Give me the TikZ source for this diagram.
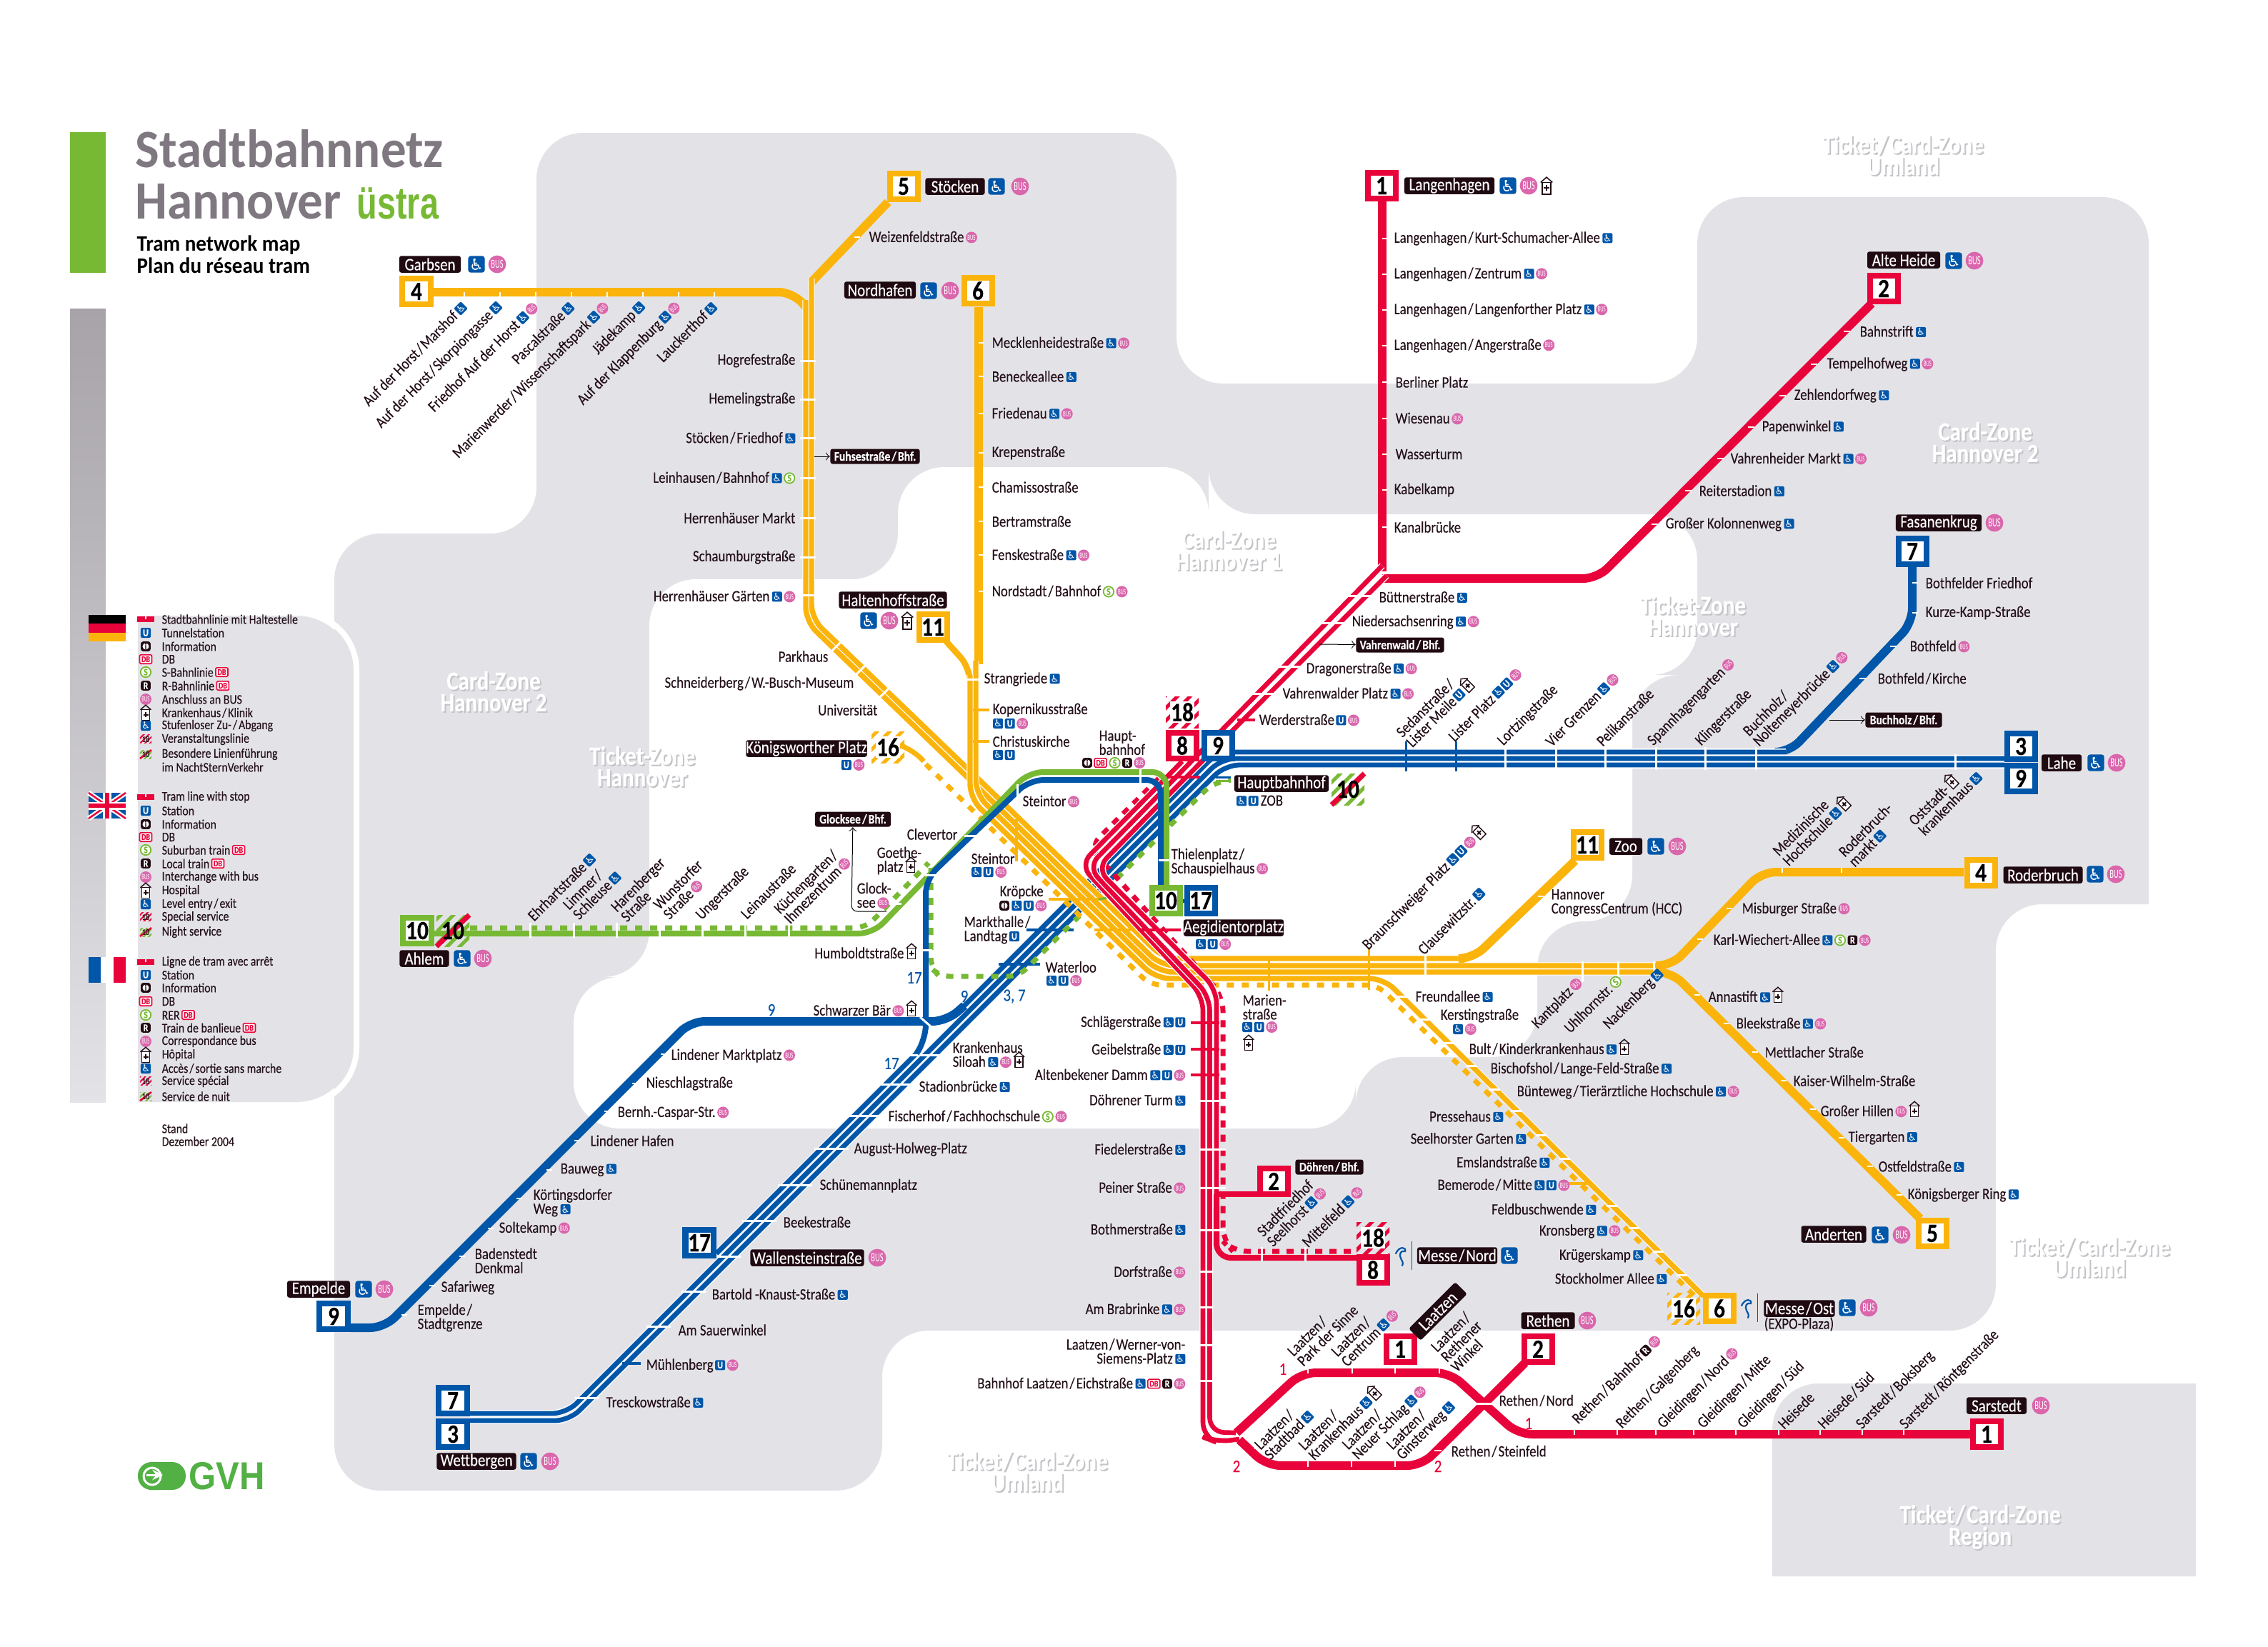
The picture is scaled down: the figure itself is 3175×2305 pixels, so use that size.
\documentclass[tikz,border=0pt]{standalone}
\usepackage{fontspec}
\usetikzlibrary{patterns.meta}
\setmainfont{Carlito}
\newfontfamily\mapfam{Carlito}[FakeStretch=0.85,FakeBold=0.12]
\newfontfamily\titlefam{Carlito}[FakeStretch=0.94]
\newfontfamily\iconfam{Carlito}[FakeStretch=0.6]
\newfontfamily\wheelfam{DejaVu Sans}
\newfontfamily\logofam{Liberation Sans}[FakeStretch=0.9]
\newfontfamily\ustrafam{Liberation Sans}[FakeStretch=0.74]

\definecolor{zonegray}{HTML}{E3E3E7}
\definecolor{zoneshade}{HTML}{C4C4C8}
\definecolor{bartop}{HTML}{A7A3A8}
\definecolor{tramred}{HTML}{E8043A}
\definecolor{tramyellow}{HTML}{FBB40C}
\definecolor{tramblue}{HTML}{0056A8}
\definecolor{tramgreen}{HTML}{78B934}
\definecolor{plateblk}{HTML}{200A12}
\definecolor{stoptext}{HTML}{24101A}
\definecolor{buspink}{HTML}{DA66AC}
\definecolor{titlegray}{HTML}{7F7880}
\definecolor{gvhgreen}{HTML}{52B044}

\def\stopfont{\fontsize{6.3}{5.6}\mapfam\lineskiplimit=-10pt}
\def\platefont{\fontsize{7}{8}\mapfam}
\def\minifont{\fontsize{5.2}{6}\mapfam\bfseries}
\def\numfont{\fontsize{10.5}{11}\mapfam\bfseries}
\def\legfont{\fontsize{5.3}{6}\mapfam}
\def\zonefont{\fontsize{10.4}{8.6}\mapfam\bfseries}
\def\slsh{\kern.2mm/\kern.2mm}

\tikzset{
	lbl/.style={anchor=west,inner sep=0pt,align=left,font=\stopfont,text=stoptext},
	lblr/.style={anchor=east,inner sep=0pt,align=right,font=\stopfont,text=stoptext},
	rlbl/.style={lbl,rotate=45},
	rlblr/.style={lblr,rotate=45},
	plate/.style={fill=plateblk,text=white,rounded corners=.3mm,inner sep=0pt,minimum width=#1,minimum height=2.35mm,font=\platefont},
	platem/.style={fill=plateblk,text=white,rounded corners=.3mm,inner sep=0pt,minimum width=#1,minimum height=2.1mm,font=\minifont},
	numbox/.style={draw=#1,line width=.8mm,fill=white,minimum width=3.9mm,minimum height=3.6mm,inner sep=0pt,text=black,font=\numfont},
	icn/.style={inner sep=0pt},
	zonetxt/.style={inner sep=0pt,align=center,font=\zonefont},
	lnum/.style={inner sep=0pt,font=\fontsize{7}{8}\mapfam,text=#1},
	leglbl/.style={anchor=west,inner sep=0pt,font=\legfont,text=stoptext},
	linered/.style={tramred,line width=1.2mm,rounded corners=2mm},
	lineyel/.style={tramyellow,line width=1.2mm,rounded corners=2mm},
	lineblu/.style={tramblue,line width=1.2mm,rounded corners=2mm},
	bandr/.style={draw=white,double=tramred,double distance=.66mm,line width=.14mm,rounded corners=2mm},
	bandy/.style={draw=white,double=tramyellow,double distance=.74mm,line width=.1mm,rounded corners=2mm},
	bandb/.style={draw=white,double=tramblue,double distance=.68mm,line width=.14mm,rounded corners=2mm},
	nightr/.style={tramred,line width=.7mm,dash pattern=on 1mm off 1mm,rounded corners=2mm},
	nighty/.style={tramyellow,line width=.7mm,dash pattern=on 1mm off 1.1mm,rounded corners=1.5mm},
	nightg/.style={tramgreen,line width=.7mm,dash pattern=on 1mm off 1.1mm,rounded corners=1.5mm},
	cutw/.style={white,line width=.3mm},
	tickw/.style={white,line width=.28mm},
}

\newsavebox\wcbox \newsavebox\ubox \newsavebox\busbox \newsavebox\hospbox
\newsavebox\sbbox \newsavebox\rbbox \newsavebox\infobox \newsavebox\dbbox
\newsavebox\evbox \newsavebox\nsbox
\def\makeicons{%
	\pgfinterruptpicture%
	\global\setbox\wcbox\hbox{\tikz[baseline=-.65mm]{\fill[tramblue,rounded corners=.2mm] (-.7mm,-.7mm) rectangle (.7mm,.7mm); \node[white,inner sep=0pt,font=\fontsize{3.8}{4}\wheelfam] (wcg) at (0,0) {♿};}}%
	\global\setbox\ubox\hbox{\tikz[baseline=-.65mm]{\fill[tramblue,rounded corners=.2mm] (-.7mm,-.7mm) rectangle (.7mm,.7mm); \node[white,inner sep=0pt,font=\fontsize{4}{4}\mapfam\bfseries] (ug) at (0,0) {U};}}%
	\global\setbox\busbox\hbox{\tikz[baseline=-.65mm]{\fill[buspink] (0,0) circle (.8mm); \node[white,inner sep=0pt,font=\fontsize{3.2}{4}\iconfam] (bg) at (0,0) {BUS};}}%
	\global\setbox\hospbox\hbox{\tikz[baseline=-.9mm]{\draw[plateblk,line width=.14mm,fill=white] (-.55mm,-1mm) rectangle (.55mm,.5mm); \draw[plateblk,line width=.14mm] (-.75mm,.5mm) -- (0,1.15mm) -- (.75mm,.5mm); \fill[plateblk] (-.35mm,-.3mm) rectangle (.35mm,-.1mm); \fill[plateblk] (-.1mm,-.55mm) rectangle (.1mm,.15mm);}}%
	\global\setbox\sbbox\hbox{\tikz[baseline=-.65mm]{\draw[tramgreen,line width=.18mm,fill=white] (0,0) circle (.72mm); \node[tramgreen,inner sep=0pt,font=\fontsize{4}{4}\mapfam\bfseries] (sg) at (0,0) {S};}}%
	\global\setbox\rbbox\hbox{\tikz[baseline=-.65mm]{\fill[plateblk,rounded corners=.3mm] (-.68mm,-.68mm) rectangle (.68mm,.68mm); \node[white,inner sep=0pt,font=\fontsize{4}{4}\mapfam\bfseries] (rg) at (0,0) {R};}}%
	\global\setbox\infobox\hbox{\tikz[baseline=-.65mm]{\fill[plateblk,rounded corners=.3mm] (-.68mm,-.68mm) rectangle (.68mm,.68mm); \fill[white] (0,0) circle (.45mm); \node[plateblk,inner sep=0pt,font=\fontsize{3.6}{4}\mapfam\bfseries] (ig) at (0,0) {i};}}%
	\global\setbox\dbbox\hbox{\tikz[baseline=-.65mm]{\draw[tramred,line width=.16mm,fill=white,rounded corners=.15mm] (-.85mm,-.62mm) rectangle (.85mm,.62mm); \node[tramred,inner sep=0pt,font=\fontsize{3.4}{4}\mapfam\bfseries] (dg) at (0,0) {DB};}}%
	\global\setbox\evbox\hbox{\tikz[baseline=-.65mm]{\fill[pattern={Lines[angle=45,distance=.5mm,line width=.2mm]},pattern color=tramred] (-.8mm,-.6mm) rectangle (.8mm,.6mm); \node[stoptext,inner sep=0pt,font=\fontsize{3.4}{4}\mapfam] (eg) at (0,0) {18};}}%
	\global\setbox\nsbox\hbox{\tikz[baseline=-.65mm]{\fill[pattern={Lines[angle=45,distance=.5mm,line width=.2mm]},pattern color=tramgreen] (-.8mm,-.6mm) rectangle (.8mm,.6mm); \draw[tramred,line width=.25mm] (-.8mm,-.6mm) -- (.8mm,.6mm); \node[stoptext,inner sep=0pt,font=\fontsize{3.4}{4}\mapfam] (ng) at (0,0) {10};}}%
	\endpgfinterruptpicture%
}
\def\icw{\kern.35mm\usebox\wcbox}
\def\icu{\kern.25mm\usebox\ubox}
\def\icb{\kern.25mm\usebox\busbox}
\def\ich{\kern.25mm\usebox\hospbox}
\def\ics{\kern.25mm\usebox\sbbox}
\def\icr{\kern.25mm\usebox\rbbox}
\def\ici{\kern.25mm\usebox\infobox}
\def\icd{\kern.25mm\usebox\dbbox}
\def\bigw{\scalebox{1.65}{\usebox\wcbox}}
\def\bigb{\scalebox{1.55}{\usebox\busbox}}
\def\bigh{\scalebox{1.1}{\usebox\hospbox}}
\def\zonelbl#1(#2,#3)#4{\node[zonetxt,text=zoneshade] (#1s) at (#2+2,#3+2) {#4}; \node[zonetxt,text=white] (#1) at (#2,#3) {#4};}
\def\stripebox#1(#2,#3)#4#5{\fill[pattern={Lines[angle=45,distance=1.25mm,line width=.5mm]},pattern color=#4] (#2-23,#3-22) rectangle (#2+23,#3+22); #5}
\def\legrow#1(#2)#3#4{\node[icn] (#1i) at (204,#2) {#3}; \node[leglbl] (#1t) at (226,#2) {#4};}
\def\legbar(#1){\fill[tramred] (192,#1-4) rectangle (216,#1+4); \fill[white] (203,#1-4) rectangle (205,#1);}
\def\expowave(#1,#2){\draw[tramblue,line width=.22mm,line cap=round] (#1-7,#2-3) .. controls (#1-2,#2-14) and (#1+8,#2-12) .. (#1+6,#2-6) .. controls (#1,#2-8) and (#1-3,#2-2) .. (#1,#2+4) .. controls (#1+2,#2+8) and (#1+4,#2+10) .. (#1+2,#2+14); \draw[tramblue,line width=.1mm] (#1+15,#2-20) -- (#1+15,#2+20);}

\begin{document}
\begin{tikzpicture}[x=0.01cm,y=-0.01cm]
	\makeicons
	\useasboundingbox (0,0) rectangle (3175,2305);
	%%%%% ZONES %%%%%
	\fill[zonegray,rounded corners=6.5mm] (751,186) -- (1647,186) -- (1647,537) -- (2376,537) -- (2376,276) -- (3008,276) [sharp corners] -- (3008,1266) [rounded corners=6.5mm] -- (2794,1266) -- (2794,1863) -- (1235,1863) -- (1235,2087) -- (468,2087) -- (468,747) -- (751,747) -- cycle;
	\fill[white,rounded corners=6.5mm] (1257,654) -- (1692,654) -- (1692,720) -- (2376,720) -- (2376,945) -- (2285,945) -- (2285,1290) -- (2152,1290) -- (2152,1480) -- (1898,1480) -- (1898,1580) -- (803,1580) -- (803,1368) -- (909,1368) -- (909,811) -- (1257,811) -- cycle;
	\fill[zonegray] (2481,2207) [rounded corners=6.5mm] -- (2481,1937) [sharp corners] -- (3074,1937) -- (3074,2207) -- cycle;

	\zonelbl{zta}(2664,217){Ticket\slsh Card-Zone\\Umland}
	\zonelbl{zcb}(2779,619){Card-Zone\\Hannover 2}
	\zonelbl{ztc}(2370,862){Ticket-Zone\\Hannover}
	\zonelbl{zcd}(1720,770){Card-Zone\\Hannover 1}
	\zonelbl{zce}(691,968){Card-Zone\\Hannover 2}
	\zonelbl{ztf}(899,1073){Ticket-Zone\\Hannover}
	\zonelbl{ztg}(1438,2060){Ticket\slsh Card-Zone\\Umland}
	\zonelbl{zth}(2925,1760){Ticket\slsh Card-Zone\\Umland}
	\zonelbl{zti}(2772,2138){Ticket\slsh Card-Zone\\Region}

	%%%%% TITLE %%%%%
	\fill[tramgreen] (98,185) rectangle (148,382);
	\shade[top color=bartop,bottom color=zonegray] (98,432) rectangle (148,1543);
	\node[anchor=base west,inner sep=0pt,text=titlegray,font=\fontsize{21.5}{22}\titlefam\bfseries] (ttla) at (189,234) {Stadtbahnnetz};
	\node[anchor=base west,inner sep=0pt,text=titlegray,font=\fontsize{21.5}{22}\titlefam\bfseries] (ttlb) at (189,306) {Hannover};
	\node[anchor=base west,inner sep=0pt,text=tramgreen,font=\fontsize{18}{20}\ustrafam\bfseries] (ttlc) at (499,306) {üstra};
	\node[anchor=base west,inner sep=0pt,text=black,font=\fontsize{8.8}{10}\titlefam\bfseries] (ttld) at (191,351) {Tram network map};
	\node[anchor=base west,inner sep=0pt,text=black,font=\fontsize{8.8}{10}\titlefam\bfseries] (ttle) at (191,382) {Plan du réseau tram};

	%%%%% LEGEND %%%%%
	\fill[zonegray] (193,862) [rounded corners=8mm] -- (495,862) -- (495,1543) [sharp corners] -- (193,1543) -- cycle;
	\draw[white,line width=.8mm,rounded corners=8mm] (440,858) -- (499,858) -- (499,1547) -- (440,1547);

	\fill[black] (124,861) rectangle (176,873);
	\fill[tramred] (124,873) rectangle (176,886);
	\fill[tramyellow] (124,886) rectangle (176,898);
	\fill[tramblue] (124,1110) rectangle (176,1146);
	\draw[white,line width=.7mm] (124,1110) -- (176,1146) (124,1146) -- (176,1110);
	\draw[tramred,line width=.25mm] (124,1110) -- (176,1146) (124,1146) -- (176,1110);
	\draw[white,line width=1.1mm] (150,1110) -- (150,1146) (124,1128) -- (176,1128);
	\draw[tramred,line width=.6mm] (150,1110) -- (150,1146) (124,1128) -- (176,1128);
	\fill[tramblue] (124,1340) rectangle (141,1376);
	\fill[white] (141,1340) rectangle (159,1376);
	\fill[tramred] (159,1340) rectangle (176,1376);

	\legbar(867)
	\node[leglbl] (lda) at (226,867) {Stadtbahnlinie mit Haltestelle};
	\legrow{ldb}(886){\usebox\ubox}{Tunnelstation}
	\legrow{ldc}(905){\usebox\infobox}{Information}
	\legrow{ldd}(923){\usebox\dbbox}{DB}
	\legrow{lde}(941){\usebox\sbbox}{S-Bahnlinie\icd}
	\legrow{ldf}(960){\usebox\rbbox}{R-Bahnlinie\icd}
	\legrow{ldg}(979){\usebox\busbox}{Anschluss an BUS}
	\legrow{ldh}(998){\usebox\hospbox}{Krankenhaus\slsh Klinik}
	\legrow{ldi}(1016){\usebox\wcbox}{Stufenloser Zu-\slsh Abgang}
	\legrow{ldj}(1035){\usebox\evbox}{Veranstaltungslinie}
	\legrow{ldk}(1056){\usebox\nsbox}{Besondere Linienführung}
	\node[leglbl] (ldl) at (226,1074) {im NachtSternVerkehr};

	\legbar(1116)
	\node[leglbl] (lea) at (226,1116) {Tram line with stop};
	\legrow{leb}(1135){\usebox\ubox}{Station}
	\legrow{lec}(1154){\usebox\infobox}{Information}
	\legrow{led}(1172){\usebox\dbbox}{DB}
	\legrow{lee}(1190){\usebox\sbbox}{Suburban train\icd}
	\legrow{lef}(1209){\usebox\rbbox}{Local train\icd}
	\legrow{leg}(1228){\usebox\busbox}{Interchange with bus}
	\legrow{leh}(1247){\usebox\hospbox}{Hospital}
	\legrow{lei}(1266){\usebox\wcbox}{Level entry\slsh exit}
	\legrow{lej}(1284){\usebox\evbox}{Special service}
	\legrow{lek}(1305){\usebox\nsbox}{Night service}

	\legbar(1347)
	\node[leglbl] (lfa) at (226,1347) {Ligne de tram avec arrêt};
	\legrow{lfb}(1365){\usebox\ubox}{Station}
	\legrow{lfc}(1383){\usebox\infobox}{Information}
	\legrow{lfd}(1402){\usebox\dbbox}{DB}
	\legrow{lfe}(1421){\usebox\sbbox}{RER\icd}
	\legrow{lff}(1439){\usebox\rbbox}{Train de banlieue\icd}
	\legrow{lfg}(1458){\usebox\busbox}{Correspondance bus}
	\legrow{lfh}(1477){\usebox\hospbox}{Hôpital}
	\legrow{lfi}(1496){\usebox\wcbox}{Accès\slsh sortie sans marche}
	\legrow{lfj}(1514){\usebox\evbox}{Service spécial}
	\legrow{lfk}(1535){\usebox\nsbox}{Service de nuit}

	\node[leglbl] (stnda) at (226,1580) {Stand};
	\node[leglbl] (stndb) at (226,1598) {Dezember 2004};

	\fill[gvhgreen,rounded corners=1.9mm] (193,2047) rectangle (260,2086);
	\draw[white,line width=.3mm] (213,2067) circle (1.2mm);
	\draw[white,line width=.3mm,-stealth] (205,2065) -- (228,2065);
	\node[anchor=west,inner sep=0pt,text=gvhgreen,font=\fontsize{15.5}{16}\logofam\bfseries] (gvh) at (264,2067) {GVH};

	%%%%% BLUE DIAGONAL %%%%%
	\draw[lineblu] (2677,793) -- (2677,872) -- (2505,1053) -- (2490,1053);
	\draw[bandb] (2500,1053) -- (1705,1053) -- (1345,1413);
	\draw[bandb] (2806,1062) -- (1710,1062) -- (793,1979) -- (658,1979);
	\draw[bandb] (2806,1071) -- (1715,1071) -- (797,1989) -- (658,1989);
	\draw[bandb] (1003,1755) -- (1283,1475);
	\draw[lineblu] (491,1859) -- (538,1859) -- (967,1430) -- (1325,1430) -- (1350,1408);

	\draw[cutw] (1271,1477) -- (1319,1477);
	\draw[cutw] (1230,1518) -- (1278,1518);
	\draw[cutw] (1186,1562) -- (1234,1562);
	\draw[cutw] (1140,1608) -- (1188,1608);
	\draw[cutw] (1089,1659) -- (1137,1659);
	\draw[cutw] (1039,1709) -- (1087,1709);
	\draw[cutw] (1003,1759) -- (1037,1759);
	\draw[cutw] (954,1808) -- (988,1808);
	\draw[cutw] (905,1857) -- (939,1857);
	\draw[cutw] (805,1957) -- (839,1957);
	\draw[tramblue,line width=.35mm] (871,1909) -- (897,1909);
	\draw[tramblue,line width=.35mm] (1398,1350) -- (1456,1350);
	\draw[tramblue,line width=.35mm] (1437,1302) -- (1503,1302);

	\draw[cutw] (2107,1046) -- (2107,1078);
	\draw[cutw] (2178,1046) -- (2178,1078);
	\draw[cutw] (2247,1046) -- (2247,1078);
	\draw[cutw] (2318,1046) -- (2318,1078);
	\draw[cutw] (2387,1046) -- (2387,1078);
	\draw[cutw] (2458,1046) -- (2458,1078);
	\draw[cutw] (2737,1056) -- (2737,1078);
	\draw[tramblue,line width=.3mm] (1968,1038) -- (1968,1080);
	\draw[tramblue,line width=.3mm] (2038,1038) -- (2038,1080);

	\draw[tickw] (925,1476) -- (933,1476);
	\draw[tickw] (885,1517) -- (893,1517);
	\draw[tickw] (846,1556) -- (854,1556);
	\draw[tickw] (804,1597) -- (812,1597);
	\draw[tickw] (765,1638) -- (773,1638);
	\draw[tickw] (723,1678) -- (731,1678);
	\draw[tickw] (683,1720) -- (691,1720);
	\draw[tickw] (643,1759) -- (651,1759);
	\draw[tickw] (601,1800) -- (609,1800);
	\draw[tickw] (562,1841) -- (570,1841);
	\draw[tickw] (2677,816) -- (2685,816);
	\draw[tickw] (2677,858) -- (2685,858);
	\draw[tickw] (2646,905) -- (2655,905);
	\draw[tickw] (2603,950) -- (2612,950);

	%%%%% GREEN NIGHT %%%%%
	\draw[nightg] (658,1299) -- (1212,1299) -- (1300,1208);
	\draw[nightg] (1303,1215) -- (1303,1355) -- (1315,1367) -- (1426,1367) -- (1697,1097) -- (1723,1092);

	%%%%% YELLOW %%%%%
	\draw[lineyel] (607,409) -- (1110,409) -- (1128,430);
	\draw[lineyel] (1243,283) -- (1136,395);
	\draw[lineyel] (1370,430) -- (1370,930);
	\draw[tramyellow,line width=.85mm,rounded corners=2mm] (1320,893) -- (1358,935) -- (1358,955);
	\draw[bandy] (1136,390) -- (1136,866) -- (1398,1118) -- (1629,1342) -- (2055,1342);
	\draw[bandy] (1128,420) -- (1128,870) -- (1385,1118) -- (1625,1352) -- (2322,1352);
	\draw[bandy] (1366,925) -- (1366,1112) -- (1622,1361) -- (2322,1361);
	\draw[bandy] (1358,945) -- (1358,1118) -- (1618,1370) -- (1937,1370) -- (2385,1815);
	\draw[lineyel] (2050,1342) -- (2062,1342) -- (2205,1205);
	\draw[lineyel] (2318,1352) -- (2340,1352) -- (2466,1221) -- (2749,1221);
	\draw[lineyel] (2318,1361) -- (2340,1361) -- (2688,1706);
	\draw[tramyellow,line width=.7mm,rounded corners=2mm] (1267,1046) -- (1280,1050) -- (1293,1066);
	\draw[nighty] (1296,1070) -- (1610,1379) -- (1928,1379) -- (2378,1820);

	\draw[cutw] (1120,505) -- (1142,505);
	\draw[cutw] (1120,559) -- (1142,559);
	\draw[cutw] (1120,613) -- (1142,613);
	\draw[cutw] (1120,669) -- (1142,669);
	\draw[cutw] (1120,725) -- (1142,725);
	\draw[cutw] (1120,780) -- (1142,780);
	\draw[cutw] (1120,833) -- (1142,833);
	\draw[cutw] (1162,914) -- (1180,896);
	\draw[cutw] (1196,947) -- (1214,929);
	\draw[cutw] (1229,979) -- (1247,961);
	\draw[cutw] (1350,951) -- (1376,951);
	\draw[cutw] (1995,1336) -- (1995,1375);
	\draw[cutw] (2215,1346) -- (2215,1375);
	\draw[cutw] (2265,1346) -- (2265,1375);
	\draw[cutw] (2315,1346) -- (2315,1375);
	\draw[tramyellow,line width=.3mm] (1916,1328) -- (1916,1386);
	\draw[tramyellow,line width=.3mm] (1776,1345) -- (1776,1387);
	\draw[tramyellow,line width=.35mm] (1362,994) -- (1385,994);
	\draw[tramyellow,line width=.35mm] (1362,1038) -- (1385,1038);
	\draw[tramyellow,line width=.35mm] (1423,1147) -- (1423,1206);
	\draw[tramyellow,line width=.35mm] (1468,1259) -- (1540,1259);
	\draw[tramgreen,line width=.35mm] (1538,1259) -- (1551,1257);
	\draw[tramyellow,line width=.35mm] (1532,1302) -- (1593,1302);
	\draw[tramyellow,line width=.35mm] (2195,1657) -- (2225,1657);

	\draw[cutw] (1954,1395) -- (1969,1395);
	\draw[cutw] (1986,1427) -- (2001,1427);
	\draw[cutw] (2020,1460) -- (2035,1460);
	\draw[cutw] (2052,1492) -- (2067,1492);
	\draw[cutw] (2085,1525) -- (2100,1525);
	\draw[cutw] (2115,1555) -- (2130,1555);
	\draw[cutw] (2150,1589) -- (2165,1589);
	\draw[cutw] (2183,1622) -- (2198,1622);
	\draw[cutw] (2249,1688) -- (2264,1688);
	\draw[cutw] (2280,1719) -- (2295,1719);
	\draw[cutw] (2314,1752) -- (2329,1752);
	\draw[cutw] (2347,1785) -- (2362,1785);

	\draw[tickw] (650,409) -- (650,416);
	\draw[tickw] (700,409) -- (700,416);
	\draw[tickw] (750,409) -- (750,416);
	\draw[tickw] (800,409) -- (800,416);
	\draw[tickw] (850,409) -- (850,416);
	\draw[tickw] (900,409) -- (900,416);
	\draw[tickw] (950,409) -- (950,416);
	\draw[tickw] (1000,409) -- (1000,416);
	\draw[tickw] (1196,332) -- (1204,332);
	\draw[tickw] (1370,480) -- (1377,480);
	\draw[tickw] (1370,527) -- (1377,527);
	\draw[tickw] (1370,579) -- (1377,579);
	\draw[tickw] (1370,634) -- (1377,634);
	\draw[tickw] (1370,682) -- (1377,682);
	\draw[tickw] (1370,730) -- (1377,730);
	\draw[tickw] (1370,777) -- (1377,777);
	\draw[tickw] (1370,828) -- (1377,828);
	\draw[tickw] (2153,1255) -- (2161,1255);
	\draw[tickw] (2417,1272) -- (2425,1272);
	\draw[tickw] (2376,1315) -- (2384,1315);
	\draw[tickw] (2495,1215) -- (2495,1222);
	\draw[tickw] (2578,1215) -- (2578,1222);
	\draw[tickw] (2372,1393) -- (2380,1393);
	\draw[tickw] (2413,1433) -- (2421,1433);
	\draw[tickw] (2453,1473) -- (2461,1473);
	\draw[tickw] (2493,1513) -- (2501,1513);
	\draw[tickw] (2534,1553) -- (2542,1553);
	\draw[tickw] (2574,1593) -- (2582,1593);
	\draw[tickw] (2614,1633) -- (2622,1633);
	\draw[tickw] (2655,1673) -- (2663,1673);

	%%%%% RED %%%%%
	\draw[linered] (1935,282) -- (1935,800);
	\draw[linered] (2620,425) -- (2236,810) -- (1935,810);
	\draw[nightr] (1622,1090) -- (1525,1186) -- (1712,1395) -- (1712,1738) -- (1726,1752) -- (1899,1752);
	\draw[bandr] (1655,1066) -- (1585,1137) -- (1512,1211) -- (1684,1395) -- (1684,2012) -- (1702,2019) -- (1735,2015);
	\draw[bandr] (1935,792) -- (1598.5,1137) -- (1523,1214) -- (1693.5,1395) -- (1693.5,2005) -- (1730,2006);
	\draw[bandr] (1941,806) -- (1612,1137) -- (1535,1216) -- (1703,1385) -- (1703,1690);
	\draw[tramred,line width=.8mm,rounded corners=2mm] (1703,1672) -- (1703,1761) -- (1899,1761);
	\draw[tramred,line width=.8mm] (1703,1672) -- (1760,1672);
	\draw[tramred,line width=.35mm] (1630,1088) -- (1680,1088);
	\draw[tramred,line width=.35mm] (1732,1008) -- (1757,1008);
	\draw[tramred,line width=.35mm] (1593,1302) -- (1653,1302);
	\draw[tramred,line width=.35mm] (1667,1432) -- (1707,1432);
	\draw[tramred,line width=.35mm] (1667,1469) -- (1707,1469);
	\draw[tramred,line width=.35mm] (1667,1505) -- (1707,1505);

	\draw[linered] (1731,2006) -- (1822,1922) -- (2030,1922) -- (2075,1963) -- (2125,2008) -- (2760,2008);
	\draw[linered] (1735,2016) -- (1773,2052) -- (1990,2052) -- (2075,1968) -- (2135,1908);
	\draw[cutw] (2058,1965) -- (2092,1965);

	\draw[cutw] (1885,834) -- (1925,834);
	\draw[cutw] (1848,872) -- (1888,872);
	\draw[cutw] (1790,933) -- (1825,933);
	\draw[cutw] (1752,971) -- (1788,971);
	\draw[cutw] (1680,1541) -- (1716,1541);
	\draw[cutw] (1680,1609) -- (1716,1609);
	\draw[cutw] (1680,1663) -- (1716,1663);
	\draw[cutw] (1680,1722) -- (1716,1722);
	\draw[cutw] (1680,1780) -- (1698,1780);
	\draw[cutw] (1680,1830) -- (1698,1830);
	\draw[cutw] (1680,1883) -- (1698,1883);
	\draw[cutw] (1680,1933) -- (1698,1933);
	\draw[cutw] (1766,1746) -- (1766,1766);
	\draw[cutw] (1827,1746) -- (1827,1766);

	\draw[tickw] (1935,334) -- (1942,334);
	\draw[tickw] (1935,384) -- (1942,384);
	\draw[tickw] (1935,434) -- (1942,434);
	\draw[tickw] (1935,484) -- (1942,484);
	\draw[tickw] (1935,535) -- (1942,535);
	\draw[tickw] (1935,586) -- (1942,586);
	\draw[tickw] (1935,636) -- (1942,636);
	\draw[tickw] (1935,686) -- (1942,686);
	\draw[tickw] (1935,738) -- (1942,738);
	\draw[tickw] (2581,464) -- (2590,464);
	\draw[tickw] (2535,510) -- (2544,510);
	\draw[tickw] (2491,554) -- (2500,554);
	\draw[tickw] (2447,598) -- (2456,598);
	\draw[tickw] (2404,642) -- (2413,642);
	\draw[tickw] (2359,687) -- (2368,687);
	\draw[tickw] (2312,734) -- (2321,734);
	\draw[tickw] (1831,1915) -- (1831,1923);
	\draw[tickw] (1893,1915) -- (1893,1923);
	\draw[tickw] (1953,1915) -- (1953,1923);
	\draw[tickw] (2015,1915) -- (2015,1923);
	\draw[tickw] (1831,2046) -- (1831,2054);
	\draw[tickw] (1892,2046) -- (1892,2054);
	\draw[tickw] (1953,2046) -- (1953,2054);
	\draw[tickw] (1756,2028) -- (1764,2028);
	\draw[tickw] (2008,2031) -- (2018,2031);
	\draw[tickw] (2204,2002) -- (2204,2009);
	\draw[tickw] (2264,2002) -- (2264,2009);
	\draw[tickw] (2318,2002) -- (2318,2009);
	\draw[tickw] (2371,2002) -- (2371,2009);
	\draw[tickw] (2430,2002) -- (2430,2009);
	\draw[tickw] (2490,2002) -- (2490,2009);
	\draw[tickw] (2548,2002) -- (2548,2009);
	\draw[tickw] (2607,2002) -- (2607,2009);
	\draw[tickw] (2665,2002) -- (2665,2009);

	%%%%% LINES 10 AND 17 ON TOP %%%%%
	\draw[tramgreen,line width=.8mm,rounded corners=2mm] (608,1307) -- (1222,1307) -- (1440,1081) -- (1633,1081) -- (1633,1240);
	\draw[tramblue,line width=.8mm,rounded corners=2mm] (1283,1475) -- (1296,1455) -- (1296,1231) -- (1441,1092) -- (1625,1092) -- (1625,1240);
	\draw[tramgreen,line width=.3mm] (1702,1093) -- (1723,1093);
	\draw[tramblue,line width=.3mm] (1702,1088) -- (1723,1088);
	\draw[tramblue,line width=.5mm] (1655,1261) -- (1658,1261);

	\draw[cutw] (742,1292) -- (742,1313);
	\draw[cutw] (803,1292) -- (803,1313);
	\draw[cutw] (863,1292) -- (863,1313);
	\draw[cutw] (923,1292) -- (923,1313);
	\draw[cutw] (983,1292) -- (983,1313);
	\draw[cutw] (1043,1292) -- (1043,1313);
	\draw[cutw] (1104,1292) -- (1104,1313);
	\draw[cutw] (1350,1170) -- (1378,1170);
	\draw[cutw] (1295,1225) -- (1325,1225);
	\draw[cutw] (1596,1076) -- (1596,1097);
	\draw[cutw] (1424,1098) -- (1424,1122);
	\draw[cutw] (1622,1204) -- (1637,1204);
	\draw[cutw] (1290,1330) -- (1305,1330);
	\draw[cutw] (1288,1424) -- (1304,1438);
	\draw[cutw] (1248,1265) -- (1262,1265);

	%%%%% NUMBER BOXES %%%%%
	\node[numbox=tramred] (none) at (1934,260) {1};
	\node[numbox=tramred] (ntwo) at (2637,404) {2};
	\node[numbox=tramblue] (nseven) at (2677,772) {7};
	\node[numbox=tramblue] (nthree) at (2829,1045) {3};
	\node[numbox=tramblue] (nnine) at (2829,1090) {9};
	\node[numbox=tramyellow] (nfive) at (1265,261) {5};
	\node[numbox=tramyellow] (nfour) at (583,408) {4};
	\node[numbox=tramyellow] (nsix) at (1369,407) {6};
	\node[numbox=tramyellow] (neleven) at (1306,878) {11};
	\node[numbox=tramred] (neight) at (1655,1044) {8};
	\node[numbox=tramblue] (nninec) at (1705,1044) {9};
	\node[numbox=tramgreen] (ntenc) at (1632,1261) {10};
	\node[numbox=tramblue] (nsevtc) at (1681,1261) {17};
	\node[numbox=tramgreen] (ntenw) at (584,1303) {10};
	\node[numbox=tramblue] (nninew) at (467,1843) {9};
	\node[numbox=tramblue] (nsevs) at (634,1961) {7};
	\node[numbox=tramblue] (nthrees) at (634,2008) {3};
	\node[numbox=tramblue] (nsevw) at (979,1740) {17};
	\node[numbox=tramyellow] (nelevene) at (2222,1183) {11};
	\node[numbox=tramyellow] (nfoure) at (2773,1222) {4};
	\node[numbox=tramyellow] (nfivee) at (2705,1727) {5};
	\node[numbox=tramyellow] (nsixe) at (2407,1832) {6};
	\node[numbox=tramred] (ntwod) at (1783,1654) {2};
	\node[numbox=tramred] (neightm) at (1922,1778) {8};
	\node[numbox=tramred] (noner) at (1960,1889) {1};
	\node[numbox=tramred] (ntwor) at (2153,1889) {2};
	\node[numbox=tramred] (nones) at (2781,2008) {1};

	\stripebox{sbeight}(1655,997){tramred}{\fill[white] (1638,982) rectangle (1672,1012); \node[inner sep=0pt,text=black,font=\numfont] (nevent) at (1655,997) {18};}
	\stripebox{sbeightm}(1922,1733){tramred}{\fill[white] (1905,1718) rectangle (1939,1748); \node[inner sep=0pt,text=black,font=\numfont] (neventm) at (1922,1733) {18};}
	\stripebox{sbsix}(1243,1046){tramyellow}{\fill[white] (1226,1031) rectangle (1260,1061); \node[inner sep=0pt,text=black,font=\numfont] (nsixt) at (1243,1046) {16};}
	\stripebox{sbsixe}(2357,1832){tramyellow}{\fill[white] (2340,1817) rectangle (2374,1847); \node[inner sep=0pt,text=black,font=\numfont] (nsixte) at (2357,1832) {16};}
	\stripebox{sbten}(1887,1105){tramgreen}{\draw[tramred,line width=.7mm] (1864,1127) -- (1910,1083); \node[inner sep=0pt,text=black,font=\numfont] (nnighte) at (1887,1105) {10};}
	\stripebox{sbtenw}(634,1303){tramgreen}{\draw[tramred,line width=.7mm] (611,1325) -- (657,1281); \node[inner sep=0pt,text=black,font=\numfont] (nnightw) at (634,1303) {10};}

	%%%%% TERMINUS PLATES %%%%%
	\node[plate=12.6mm] (pllang) at (2029,260) {Langenhagen};
	\node[icn] (ilanga) at (2111,260) {\bigw};
	\node[icn] (ilangb) at (2140,260) {\bigb};
	\node[icn] (ilangc) at (2165,260) {\bigh};
	\node[plate=10.2mm] (plalte) at (2665,364) {Alte Heide};
	\node[icn] (ialtea) at (2735,365) {\bigw};
	\node[icn] (ialteb) at (2764,365) {\bigb};
	\node[plate=12mm] (plfasan) at (2714,732) {Fasanenkrug};
	\node[icn] (ifasan) at (2792,732) {\bigb};
	\node[plate=5.6mm] (pllahe) at (2886,1068) {Lahe};
	\node[icn] (ilahea) at (2934,1068) {\bigw};
	\node[icn] (ilaheb) at (2963,1068) {\bigb};
	\node[plate=8.3mm] (plstoeck) at (1337,261) {Stöcken};
	\node[icn] (istoa) at (1395,261) {\bigw};
	\node[icn] (istob) at (1428,261) {\bigb};
	\node[plate=10mm] (plnord) at (1232,406) {Nordhafen};
	\node[icn] (inora) at (1300,407) {\bigw};
	\node[icn] (inorb) at (1330,407) {\bigb};
	\node[plate=8.6mm] (plgarb) at (602,370) {Garbsen};
	\node[icn] (igara) at (667,370) {\bigw};
	\node[icn] (igarb) at (696,370) {\bigb};
	\node[plate=15.1mm] (plhalt) at (1250,840) {Haltenhoffstraße};
	\node[icn] (ihala) at (1216,869) {\bigw};
	\node[icn] (ihalb) at (1245,869) {\bigb};
	\node[icn] (ihalc) at (1270,869) {\bigh};
	\node[plate=16.4mm] (plkoen) at (1129,1048) {Königsworther Platz};
	\node[lblr] (ikoen) at (1211,1071) {\icu\icb};
	\node[plate=13.2mm] (plhbf) at (1794,1097) {Hauptbahnhof};
	\node[lbl] (zob) at (1727,1121) {\icw\icu\kern.3mm ZOB};
	\node[plate=13.9mm] (plaegi) at (1727,1299) {Aegidientorplatz};
	\node[lbl] (iaegi) at (1670,1322) {\icw\icu\icb};
	\node[plate=15.9mm] (plwall) at (1130,1761) {Wallensteinstraße};
	\node[icn] (iwall) at (1228,1761) {\bigb};
	\node[plate=11.1mm] (plwett) at (667,2046) {Wettbergen};
	\node[icn] (iweta) at (740,2046) {\bigw};
	\node[icn] (iwetb) at (770,2046) {\bigb};
	\node[plate=8.8mm] (plemp) at (446,1805) {Empelde};
	\node[icn] (iempa) at (509,1805) {\bigw};
	\node[icn] (iempb) at (538,1805) {\bigb};
	\node[plate=6.9mm] (plahl) at (594,1342) {Ahlem};
	\node[icn] (iahla) at (647,1342) {\bigw};
	\node[icn] (iahlb) at (676,1342) {\bigb};
	\node[plate=4.6mm] (plzoo) at (2276,1185) {Zoo};
	\node[icn] (izooa) at (2318,1185) {\bigw};
	\node[icn] (izoob) at (2348,1185) {\bigb};
	\node[plate=11.1mm] (plrod) at (2860,1225) {Roderbruch};
	\node[icn] (iroda) at (2933,1224) {\bigw};
	\node[icn] (irodb) at (2962,1224) {\bigb};
	\node[plate=9.1mm] (pland) at (2567,1728) {Anderten};
	\node[icn] (ianda) at (2632,1729) {\bigw};
	\node[icn] (iandb) at (2662,1729) {\bigb};
	\node[plate=9.9mm] (plmost) at (2519,1832) {Messe\slsh Ost};
	\node[lbl] (lexpo) at (2469,1854) {(EXPO-Plaza)};
	\node[icn] (imosa) at (2586,1831) {\bigw};
	\node[icn] (imosb) at (2616,1831) {\bigb};
	\expowave(2445,1831)
	\node[plate=11.2mm] (plmnord) at (2040,1758) {Messe\slsh Nord};
	\node[icn] (imnord) at (2113,1758) {\bigw};
	\expowave(1961,1758)
	\node[plate=7.5mm] (plreth) at (2167,1849) {Rethen};
	\node[icn] (ireth) at (2222,1849) {\bigb};
	\node[plate=9.2mm,rotate=45] (pllaatz) at (2013,1836) {Laatzen};
	\node[plate=8.4mm] (plsar) at (2795,1968) {Sarstedt};
	\node[icn] (isar) at (2857,1968) {\bigb};

	\node[platem=12.3mm] (plvahr) at (1960,903) {Vahrenwald\slsh Bhf.};
	\node[platem=10.7mm] (plbuch) at (2665,1008) {Buchholz\slsh Bhf.};
	\node[platem=12.5mm] (plfuhs) at (1225,639) {Fuhsestraße\slsh Bhf.};
	\node[platem=10.6mm] (plgloc) at (1194,1147) {Glocksee\slsh Bhf.};
	\node[platem=9.5mm] (pldoeh) at (1861,1634) {Döhren\slsh Bhf.};
	\draw[->,black,line width=.1mm] (1847,902) -- (plvahr);
	\draw[->,black,line width=.1mm] (2561,1008) -- (plbuch);
	\draw[->,black,line width=.1mm] (1140,639) -- (plfuhs);
	\coordinate (glocfoot) at (1241,1276);
	\draw[->,black,line width=.1mm,rounded corners=.8mm] (glocfoot) -- (1192,1276) -- (plgloc);

	%%%%% STOPS LINE 1 AND 2 %%%%%
	\node[lbl] (sa) at (1951,334) {Langenhagen\slsh Kurt-Schumacher-Allee\icw};
	\node[lbl] (sb) at (1951,384) {Langenhagen\slsh Zentrum\icw\icb};
	\node[lbl] (sc) at (1951,434) {Langenhagen\slsh Langenforther Platz\icw\icb};
	\node[lbl] (sd) at (1951,484) {Langenhagen\slsh Angerstraße\icb};
	\node[lbl] (se) at (1953,535) {Berliner Platz};
	\node[lbl] (sf) at (1953,586) {Wiesenau\icb};
	\node[lbl] (sg) at (1953,636) {Wasserturm};
	\node[lbl] (sh) at (1951,686) {Kabelkamp};
	\node[lbl] (si) at (1951,738) {Kanalbrücke};
	\node[lbl] (sj) at (1930,836) {Büttnerstraße\icw};
	\node[lbl] (sk) at (1892,871) {Niedersachsenring\icw\icb};
	\node[lbl] (sl) at (1828,937) {Dragonerstraße\icw\icb};
	\node[lbl] (sm) at (1795,971) {Vahrenwalder Platz\icw\icb};
	\node[lbl] (sn) at (1762,1008) {Werderstraße\icu\icb};
	\node[lbl] (tb) at (2603,464) {Bahnstrift\icw};
	\node[lbl] (tc) at (2557,510) {Tempelhofweg\icw\icb};
	\node[lbl] (td) at (2511,554) {Zehlendorfweg\icw};
	\node[lbl] (te) at (2466,598) {Papenwinkel\icw};
	\node[lbl] (tf) at (2422,642) {Vahrenheider Markt\icw\icb};
	\node[lbl] (tg) at (2378,687) {Reiterstadion\icw};
	\node[lbl] (th) at (2331,734) {Großer Kolonnenweg\icw};

	%%%%% STOPS LINE 7, 3, 9 EAST %%%%%
	\node[lbl] (ua) at (2695,816) {Bothfelder Friedhof};
	\node[lbl] (ub) at (2695,858) {Kurze-Kamp-Straße};
	\node[lbl] (uc) at (2673,905) {Bothfeld\icb};
	\node[lbl] (ud) at (2628,950) {Bothfeld\slsh Kirche};
	\node[rlbl] (va) at (1965,1036) {Sedanstraße\slsh\\Lister Meile\icu\ich};
	\node[rlbl] (vb) at (2031,1035) {Lister Platz\icw\icu\icb};
	\node[rlbl] (vc) at (2100,1041) {Lortzingstraße};
	\node[rlbl] (vd) at (2167,1042) {Vier Grenzen\icw\icb};
	\node[rlbl] (ve) at (2238,1041) {Pelikanstraße};
	\node[rlbl] (vf) at (2310,1041) {Spannhagengarten\icb};
	\node[rlbl] (vg) at (2377,1041) {Klingerstraße};
	\node[rlbl] (vh) at (2451,1035) {Buchholz\slsh\\Noltemeyerbrücke\icw\icb};
	\node[rlbl] (vi) at (2492,1202) {Medizinische\\Hochschule\icw\ich};
	\node[rlbl] (vj) at (2584,1203) {Roderbruch-\\markt\icw};
	\node[rlbl] (vk) at (2680,1157) {Oststadt-\ich\\krankenhaus\icw};

	%%%%% STOPS LINE 4, 5 WEST %%%%%
	\node[rlblr] (wa) at (650,426) {Auf der Horst\slsh Marshof\icw};
	\node[rlblr] (wb) at (700,426) {Auf der Horst\slsh Skorpiongasse\icw};
	\node[rlblr] (wc) at (750,426) {Friedhof Auf der Horst\icw\icb};
	\node[rlblr] (wd) at (800,426) {Pascalstraße\icw};
	\node[rlblr] (we) at (850,426) {Marienwerder\slsh Wissenschaftspark\icw\icb};
	\node[rlblr] (wf) at (900,426) {Jädekamp\icw};
	\node[rlblr] (wg) at (950,426) {Auf der Klappenburg\icw\icb};
	\node[rlblr] (wh) at (1000,426) {Lauckerthof\icw};
	\node[lbl] (xa) at (1216,332) {Weizenfeldstraße\icb};
	\node[lblr] (xb) at (1114,505) {Hogrefestraße};
	\node[lblr] (xc) at (1114,559) {Hemelingstraße};
	\node[lblr] (xd) at (1114,613) {Stöcken\slsh Friedhof\icw};
	\node[lblr] (xe) at (1114,669) {Leinhausen\slsh Bahnhof\icw\ics};
	\node[lblr] (xf) at (1114,725) {Herrenhäuser Markt};
	\node[lblr] (xg) at (1114,780) {Schaumburgstraße};
	\node[lblr] (xh) at (1114,835) {Herrenhäuser Gärten\icw\icb};
	\node[lblr] (xi) at (1160,919) {Parkhaus};
	\node[lblr] (xj) at (1196,957) {Schneiderberg\slsh W.-Busch-Museum};
	\node[lblr] (xk) at (1229,994) {Universität};

	%%%%% STOPS LINE 6, 11 NORTH %%%%%
	\node[lbl] (ya) at (1388,480) {Mecklenheidestraße\icw\icb};
	\node[lbl] (yb) at (1388,527) {Beneckeallee\icw};
	\node[lbl] (yc) at (1388,579) {Friedenau\icw\icb};
	\node[lbl] (yd) at (1388,634) {Krepenstraße};
	\node[lbl] (ye) at (1388,682) {Chamissostraße};
	\node[lbl] (yf) at (1388,730) {Bertramstraße};
	\node[lbl] (yg) at (1388,777) {Fenskestraße\icw\icb};
	\node[lbl] (yh) at (1388,828) {Nordstadt\slsh Bahnhof\ics\icb};
	\node[lbl] (yi) at (1377,951) {Strangriede\icw};
	\node[lbl] (yj) at (1389,994) {Kopernikusstraße};
	\node[lbl] (yk) at (1386,1013) {\icw\icu\icb};
	\node[lbl] (yl) at (1389,1038) {Christuskirche};
	\node[lbl] (ym) at (1386,1057) {\icw\icu};

	%%%%% STOPS CENTRE %%%%%
	\node[lbl] (za) at (1538,1040) {Haupt-\\bahnhof};
	\node[lbl] (zb) at (1512,1068) {\ici\icd\ics\icr\icb};
	\node[lbl] (zc) at (1431,1122) {Steintor\icb};
	\node[lblr] (zd) at (1341,1168) {Clevertor};
	\node[lbl] (ze) at (1359,1202) {Steintor};
	\node[lbl] (zf) at (1356,1221) {\icw\icu\icb};
	\node[lbl] (zg) at (1227,1205) {Goethe-\\platz\ich};
	\node[lbl] (zh) at (1199,1254) {Glock-\\see\icb};
	\node[lblr] (zi) at (1285,1332) {Humboldtstraße\ich};
	\node[lblr] (zj) at (1285,1412) {Schwarzer Bär\icb\ich};
	\node[lbl] (zk) at (1399,1249) {Kröpcke};
	\node[lbl] (zl) at (1396,1268) {\ici\icw\icu\icb};
	\node[lbl] (zm) at (1349,1302) {Markthalle\slsh\\Landtag\icu};
	\node[lbl] (zn) at (1463,1354) {Waterloo};
	\node[lbl] (zo) at (1461,1373) {\icw\icu\icb};
	\node[lbl] (zp) at (1333,1477) {Krankenhaus\\Siloah\icw\icb\ich};
	\node[lbl] (zq) at (1286,1521) {Stadionbrücke\icw};
	\node[lbl] (zr) at (1243,1563) {Fischerhof\slsh Fachhochschule\ics\icb};
	\node[lbl] (zs) at (1639,1207) {Thielenplatz\slsh\\Schauspielhaus\icb};
	\node[lbl] (zt) at (1739,1410) {Marien-\\straße};
	\node[lbl] (zu) at (1735,1438) {\icw\icu\icb};
	\node[lbl] (zv) at (1739,1460) {\usebox\hospbox};
	\node[lnum=tramblue] (lseva) at (1280,1369) {17};
	\node[lnum=tramblue] (lnina) at (1080,1414) {9};
	\node[lnum=tramblue] (lninb) at (1350,1395) {9};
	\node[lnum=tramblue] (lthr) at (1420,1395) {3, 7};
	\node[lnum=tramblue] (lsevb) at (1248,1489) {17};

	%%%%% STOPS LINE 10 WEST %%%%%
	\node[rlbl] (aa) at (742,1286) {Ehrhartstraße\icw};
	\node[rlbl] (ab) at (798,1277) {Limmer\slsh\\Schleuse\icw};
	\node[rlbl] (ac) at (865,1280) {Harenberger\\Straße};
	\node[rlbl] (ad) at (925,1277) {Wunstorfer\\Straße\icb};
	\node[rlbl] (ae) at (978,1285) {Ungerstraße};
	\node[rlbl] (af) at (1040,1283) {Leinaustraße};
	\node[rlbl] (ag) at (1094,1283) {Küchengarten\slsh\\Ihmezentrum\icb};

	%%%%% STOPS LINE 9 WEST AND 3, 7, 17 %%%%%
	\node[lbl] (ba) at (939,1478) {Lindener Marktplatz\icb};
	\node[lbl] (bb) at (904,1517) {Nieschlagstraße};
	\node[lbl] (bc) at (864,1558) {Bernh.-Caspar-Str.\icb};
	\node[lbl] (bd) at (826,1597) {Lindener Hafen};
	\node[lbl] (be) at (784,1638) {Bauweg\icw};
	\node[lbl] (bf) at (746,1684) {Körtingsdorfer\\Weg\icw};
	\node[lbl] (bg) at (698,1720) {Soltekamp\icb};
	\node[lbl] (bh) at (664,1765) {Badenstedt\\Denkmal};
	\node[lbl] (bi) at (617,1803) {Safariweg};
	\node[lbl] (bj) at (584,1845) {Empelde\slsh\\Stadtgrenze};
	\node[lbl] (ca) at (1195,1609) {August-Holweg-Platz};
	\node[lbl] (cb) at (1147,1660) {Schünemannplatz};
	\node[lbl] (cc) at (1096,1711) {Beekestraße};
	\node[lbl] (cd) at (996,1812) {Bartold -Knaust-Straße\icw};
	\node[lbl] (ce) at (949,1862) {Am Sauerwinkel};
	\node[lbl] (cf) at (904,1912) {Mühlenberg\icu\icb};
	\node[lbl] (cg) at (848,1963) {Tresckowstraße\icw};

	%%%%% STOPS SOUTH RED %%%%%
	\node[lblr] (da) at (1660,1432) {Schlägerstraße\icw\icu};
	\node[lblr] (db) at (1660,1469) {Geibelstraße\icw\icu};
	\node[lblr] (dc) at (1660,1505) {Altenbekener Damm\icw\icu\icb};
	\node[lblr] (dd) at (1660,1540) {Döhrener Turm\icw};
	\node[lblr] (de) at (1660,1609) {Fiedelerstraße\icw};
	\node[lblr] (df) at (1660,1663) {Peiner Straße\icb};
	\node[lblr] (dg) at (1660,1721) {Bothmerstraße\icw};
	\node[lblr] (dh) at (1660,1781) {Dorfstraße\icb};
	\node[lblr] (di) at (1660,1833) {Am Brabrinke\icw\icb};
	\node[lblr] (dj) at (1660,1892) {Laatzen\slsh Werner-von-\\Siemens-Platz\icw};
	\node[lblr] (dk) at (1660,1937) {Bahnhof Laatzen\slsh Eichstraße\icw\icd\icr\icb};
	\node[rlbl] (ea) at (1770,1735) {Stadtfriedhof\\Seelhorst\icw\icb};
	\node[rlbl] (eb) at (1826,1743) {Mittelfeld\icw\icb};
	\node[rlbl] (ec) at (1812,1902) {Laatzen\slsh\\Park der Sinne};
	\node[rlbl] (ed) at (1874,1903) {Laatzen\slsh\\Centrum\icw\icb};
	\node[rlbl] (ee) at (2020,1903) {Laatzen\slsh\\Rethener\\Winkel};
	\node[rlbl] (ef) at (1766,2033) {Laatzen\slsh\\Stadtbad\icw};
	\node[rlbl] (eg) at (1828,2034) {Laatzen\slsh\\Krankenhaus\icw\ich};
	\node[rlbl] (eh) at (1890,2034) {Laatzen\slsh\\Neuer Schlag\icw\icb};
	\node[rlbl] (ei) at (1952,2034) {Laatzen\slsh\\Ginsterweg\icw};
	\node[lbl] (ej) at (2098,1961) {Rethen\slsh Nord};
	\node[lbl] (ek) at (2031,2032) {Rethen\slsh Steinfeld};
	\node[rlbl] (el) at (2204,1990) {Rethen\slsh Bahnhof\icr\icb};
	\node[rlbl] (em) at (2266,1997) {Rethen\slsh Galgenberg};
	\node[rlbl] (en) at (2324,1997) {Gleidingen\slsh Nord\icb};
	\node[rlbl] (eo) at (2380,1997) {Gleidingen\slsh Mitte};
	\node[rlbl] (ep) at (2436,1997) {Gleidingen\slsh Süd};
	\node[rlbl] (eq) at (2492,1997) {Heisede};
	\node[rlbl] (er) at (2548,1997) {Heisede\slsh Süd};
	\node[rlbl] (es) at (2602,1998) {Sarstedt\slsh Boksberg};
	\node[rlbl] (et) at (2663,1998) {Sarstedt\slsh Röntgenstraße};
	\node[lnum=tramred] (lrea) at (1796,1917) {1};
	\node[lnum=tramred] (lreb) at (1731,2053) {2};
	\node[lnum=tramred] (lrec) at (2013,2053) {2};
	\node[lnum=tramred] (lred) at (2140,1993) {1};

	%%%%% STOPS EAST YELLOW %%%%%
	\node[lbl] (fa) at (2171,1264) {Hannover\\CongressCentrum (HCC)};
	\node[lbl] (fb) at (2438,1273) {Misburger Straße\icb};
	\node[lbl] (fc) at (2398,1316) {Karl-Wiechert-Allee\icw\ics\icr\icb};
	\node[lbl] (fd) at (2391,1393) {Annastift\icw\ich};
	\node[lbl] (fe) at (2430,1433) {Bleekstraße\icw\icb};
	\node[lbl] (ff) at (2470,1473) {Mettlacher Straße};
	\node[lbl] (fg) at (2510,1513) {Kaiser-Wilhelm-Straße};
	\node[lbl] (fh) at (2548,1553) {Großer Hillen\icb\ich};
	\node[lbl] (fi) at (2587,1593) {Tiergarten\icw};
	\node[lbl] (fj) at (2629,1633) {Ostfeldstraße\icw};
	\node[lbl] (fk) at (2670,1673) {Königsberger Ring\icw};
	\node[rlbl] (fl) at (1909,1325) {Braunschweiger Platz\icw\icu\icb\ich};
	\node[rlbl] (fm) at (1988,1333) {Clausewitzstr.\icw};
	\node[rlbl] (fn) at (2148,1437) {Kantplatz\icb};
	\node[rlbl] (fo) at (2193,1443) {Uhlhornstr.\ics};
	\node[rlbl] (fp) at (2248,1438) {Nackenberg\icw};
	\node[lbl] (ga) at (1981,1395) {Freundallee\icw};
	\node[lbl] (gb) at (2016,1422) {Kerstingstraße};
	\node[lbl] (gc) at (2030,1441) {\icw\icb};
	\node[lbl] (gd) at (2056,1466) {Bult\slsh Kinderkrankenhaus\icw\ich};
	\node[lbl] (ge) at (2086,1497) {Bischofshol\slsh Lange-Feld-Straße\icw};
	\node[lbl] (gf) at (2123,1529) {Bünteweg\slsh Tierärztliche Hochschule\icw\icb};
	\node[lblr] (gg) at (2105,1563) {Pressehaus\icw};
	\node[lblr] (gh) at (2137,1594) {Seelhorster Garten\icw};
	\node[lblr] (gi) at (2170,1627) {Emslandstraße\icw};
	\node[lblr] (gj) at (2198,1659) {Bemerode\slsh Mitte\icw\icu\icb};
	\node[lblr] (gk) at (2235,1693) {Feldbuschwende\icw};
	\node[lblr] (gl) at (2269,1724) {Kronsberg\icw\icb};
	\node[lblr] (gm) at (2301,1758) {Krügerskamp\icw};
	\node[lblr] (gn) at (2334,1790) {Stockholmer Allee\icw};

	%%%%% END %%%%%
\end{tikzpicture}
\end{document}
